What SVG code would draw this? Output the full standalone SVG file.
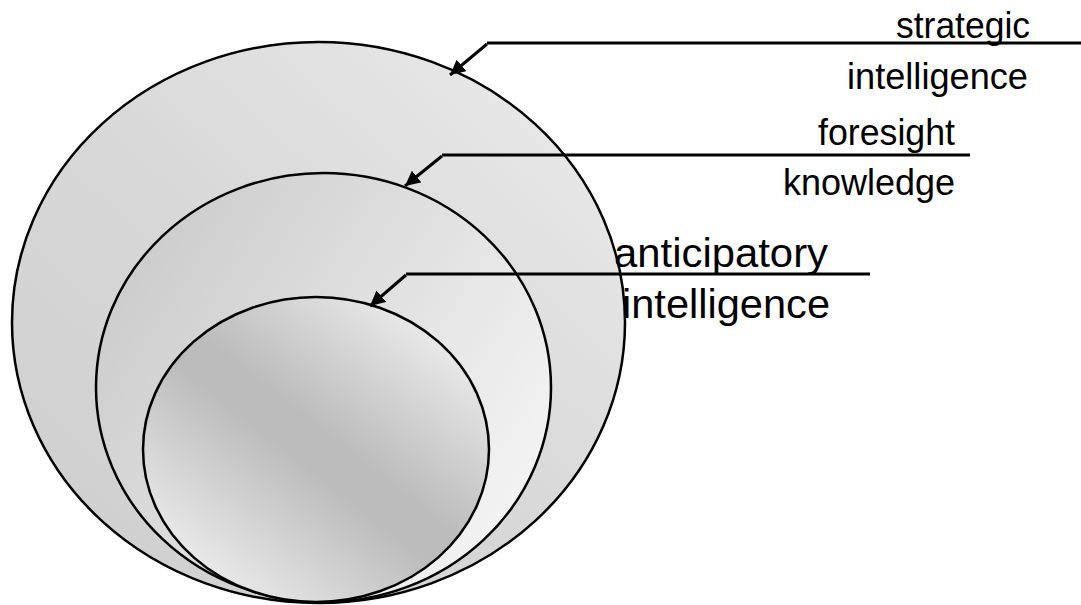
<svg xmlns="http://www.w3.org/2000/svg" width="1081" height="605" viewBox="0 0 1081 605">
<style>
.ring{stroke:#000;stroke-width:2.5}
.lbl{font-family:"Liberation Sans",Arial,sans-serif;font-size:37px;fill:#000}
.lbl2{font-family:"Liberation Sans",Arial,sans-serif;font-size:41px;fill:#000}
.conn line{stroke:#000;stroke-width:3}
</style>
<defs>
<linearGradient id="gOuter" x1="0" y1="1" x2="1" y2="0">
<stop offset="0" stop-color="#cdcdcd"/>
<stop offset="0.5" stop-color="#d8d8d8"/>
<stop offset="1" stop-color="#ececec"/>
</linearGradient>
<linearGradient id="gMid" x1="0" y1="0" x2="1" y2="0.6">
<stop offset="0" stop-color="#c6c6c6"/>
<stop offset="0.45" stop-color="#dadada"/>
<stop offset="1" stop-color="#f2f2f2"/>
</linearGradient>
<linearGradient id="gInner" x1="0.1" y1="0.95" x2="0.9" y2="0.05">
<stop offset="0" stop-color="#f2f2f2"/>
<stop offset="0.45" stop-color="#bcbcbc"/>
<stop offset="0.55" stop-color="#bcbcbc"/>
<stop offset="1" stop-color="#f2f2f2"/>
</linearGradient>
<marker id="ah" viewBox="0 0 10 10" refX="10" refY="5" markerWidth="5" markerHeight="5" orient="auto" markerUnits="strokeWidth">
<path d="M0,0 L10,5 L0,10 z" fill="#000"/>
</marker>
</defs>
<g id="outer"><ellipse class="ring" cx="318.5" cy="322.5" rx="306.5" ry="280.5" fill="url(#gOuter)"/></g>
<g id="middle"><ellipse class="ring" cx="323.5" cy="387.5" rx="227.5" ry="214.5" fill="url(#gMid)"/></g>
<g id="inner"><ellipse class="ring" cx="316" cy="449.5" rx="173" ry="152.5" fill="url(#gInner)"/></g>
<g class="conn" id="connectors">
<line x1="487" y1="43" x2="1081" y2="43"/>
<line x1="487" y1="44" x2="450" y2="75" marker-end="url(#ah)"/>
<line x1="442" y1="155" x2="970" y2="155"/>
<line x1="442" y1="156" x2="405" y2="186" marker-end="url(#ah)"/>
<line x1="406" y1="274" x2="870" y2="274"/>
<line x1="406" y1="275" x2="370" y2="306" marker-end="url(#ah)"/>
</g>
<g id="label-strategic">
<text class="lbl" x="1030" y="38" text-anchor="end" textLength="134" lengthAdjust="spacingAndGlyphs">strategic</text>
<text class="lbl" x="1028" y="89" text-anchor="end" textLength="181" lengthAdjust="spacingAndGlyphs">intelligence</text>
</g>
<g id="label-foresight">
<text class="lbl" x="955" y="145" text-anchor="end" textLength="137" lengthAdjust="spacingAndGlyphs">foresight</text>
<text class="lbl" x="955" y="195" text-anchor="end" textLength="172" lengthAdjust="spacingAndGlyphs">knowledge</text>
</g>
<g id="label-anticipatory">
<text class="lbl2" x="614" y="267" textLength="214" lengthAdjust="spacingAndGlyphs">anticipatory</text>
<text class="lbl2" x="622" y="318" textLength="208" lengthAdjust="spacingAndGlyphs">intelligence</text>
</g>
</svg>
